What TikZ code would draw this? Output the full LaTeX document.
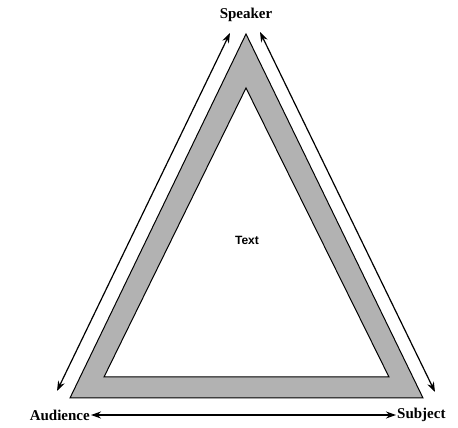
\documentclass[tikz,border=0pt]{standalone}
\usepackage{fontspec}
\setmainfont{Liberation Serif}
\setsansfont{Liberation Sans}
\usepackage{tikz}
\usetikzlibrary{arrows.meta}

\begin{document}
\begin{tikzpicture}[>={Stealth[length=10pt,width=7pt]}, x=1pt, y=1pt,
    lbl/.style={font=\fontsize{15}{17}\selectfont\bfseries, inner sep=1pt},
    link/.style={<->, line width=1.2pt}]
        \useasboundingbox (0,0) rectangle (458,428);
        % band of the triangle
        \draw[line width=1pt, fill=gray!60, even odd rule]
            (246,394) -- (70,30) -- (423,30) -- cycle
            (246,340) -- (104,51) -- (389,51) -- cycle;
        \node (txt) at (247,188) {\sffamily\bfseries\fontsize{12}{14}\selectfont Text};
        % labels
        \node[lbl] (spk) at (246,413) {Speaker};
        \node[lbl, anchor=east] (aud) at (91,13) {Audience};
        \node[lbl, anchor=west] (sub) at (396,13) {Subject};
        \coordinate (l1) at (230,395);
        \coordinate (l2) at (57,37);
        \coordinate (r1) at (260,396);
        \coordinate (r2) at (435,36);
        \draw[link] (l1) -- (l2);
        \draw[link] (r1) -- (r2);
        \draw[link] (aud) -- (sub);
    \end{tikzpicture}
\end{document}
